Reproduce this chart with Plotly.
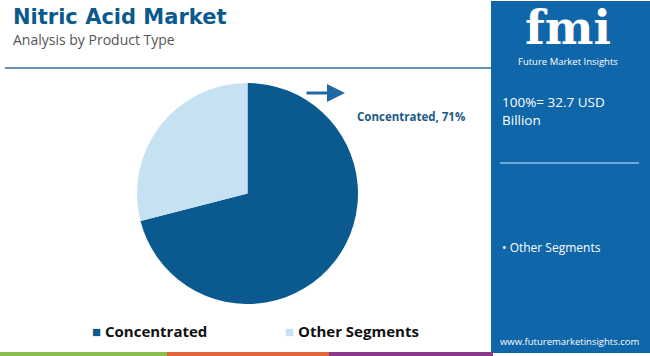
import plotly.graph_objects as go

W, H = 650, 356

categories = ["Concentrated", "Other Segments"]
shares = [71, 29]
colors = ["#0b5a8f", "#c5e1f2"]

title = "Nitric Acid Market"
subtitle = "Analysis by Product Type"
total_label = "100%= 32.7 USD<br>Billion"
panel_segments = ["Other Segments"]
callout = "Concentrated, 71%"
website = "www.futuremarketinsights.com"
legend_x = [90, 283]

def px(x):
    return x / W

def py(y):
    return 1 - y / H

fig = go.Figure()
fig.add_trace(go.Pie(
    labels=categories,
    values=shares,
    marker=dict(colors=colors, line=dict(width=0)),
    sort=False,
    direction="clockwise",
    rotation=0,
    textinfo="none",
    hoverinfo="label+percent",
    domain=dict(x=[px(136), px(359)], y=[py(304), py(83)]),
    showlegend=False,
))

shapes = [
    dict(type="rect", xref="paper", yref="paper", x0=px(491), x1=1, y0=py(353), y1=py(1),
         fillcolor="#0f66a9", line=dict(width=0), layer="below"),
    dict(type="line", xref="paper", yref="paper", x0=px(5), x1=px(491), y0=py(68), y1=py(68),
         line=dict(color="#2a6f9f", width=1.5)),
    dict(type="line", xref="paper", yref="paper", x0=px(500), x1=px(639), y0=py(163), y1=py(163),
         line=dict(color="#8fc0e3", width=1.5)),
    dict(type="rect", xref="paper", yref="paper", x0=0, x1=px(167), y0=0, y1=py(352),
         fillcolor="#8cbd4f", line=dict(width=0)),
    dict(type="rect", xref="paper", yref="paper", x0=px(167), x1=px(329), y0=0, y1=py(352),
         fillcolor="#e0663a", line=dict(width=0)),
    dict(type="rect", xref="paper", yref="paper", x0=px(329), x1=px(493), y0=0, y1=py(352),
         fillcolor="#8a3a8c", line=dict(width=0)),
]

F = "Open Sans"
annotations = [
    dict(text=title, x=px(11), y=py(17), xanchor="left", yanchor="middle", showarrow=False,
         font=dict(family="DejaVu Sans", size=21, color="#0b5a8f", weight=700)),
    dict(text=subtitle, x=px(11), y=py(39), xanchor="left", yanchor="middle", showarrow=False,
         font=dict(family=F, size=14, color="#555555")),
    dict(text="", x=px(345), y=py(93), xref="paper", yref="paper", ax=-40, ay=0,
         showarrow=True, arrowhead=2, arrowsize=1.2, arrowwidth=3, arrowcolor="#1f6aa5"),
    dict(text=callout, x=px(355), y=py(117), xanchor="left", yanchor="middle", showarrow=False,
         font=dict(family=F, size=11.5, color="#1a5a8a", weight=700)),
    dict(text="fmi", x=px(568), y=py(28), xanchor="center", yanchor="middle", showarrow=False,
         font=dict(family="DejaVu Serif", size=46, color="white", weight=700)),
    dict(text="Future Market Insights", x=px(568), y=py(62), xanchor="center", yanchor="middle",
         showarrow=False, font=dict(family=F, size=9.5, color="white")),
    dict(text=total_label, x=px(500), y=py(111), xanchor="left", yanchor="middle", showarrow=False,
         align="left", font=dict(family=F, size=13.5, color="white")),
    dict(text="• " + panel_segments[0], x=px(500), y=py(247), xanchor="left", yanchor="middle",
         showarrow=False, font=dict(family=F, size=12, color="white")),
    dict(text=website, x=px(570), y=py(341), xanchor="center", yanchor="middle", showarrow=False,
         font=dict(family=F, size=9.5, color="white")),
]

for cat, col, lx in zip(categories, colors, legend_x):
    annotations.append(dict(
        text=f"<span style='color:{col}'>■</span> {cat}", x=px(lx), y=py(331),
        xanchor="left", yanchor="middle", showarrow=False,
        font=dict(family=F, size=15, color="#111111", weight=700)))

fig.update_layout(
    width=W, height=H,
    margin=dict(l=0, r=0, t=0, b=0),
    paper_bgcolor="white",
    plot_bgcolor="white",
    shapes=shapes,
    annotations=annotations,
    showlegend=False,
)

fig.write_html("out.html", config={"displayModeBar": False},
               post_script="document.body.style.margin='0';")
